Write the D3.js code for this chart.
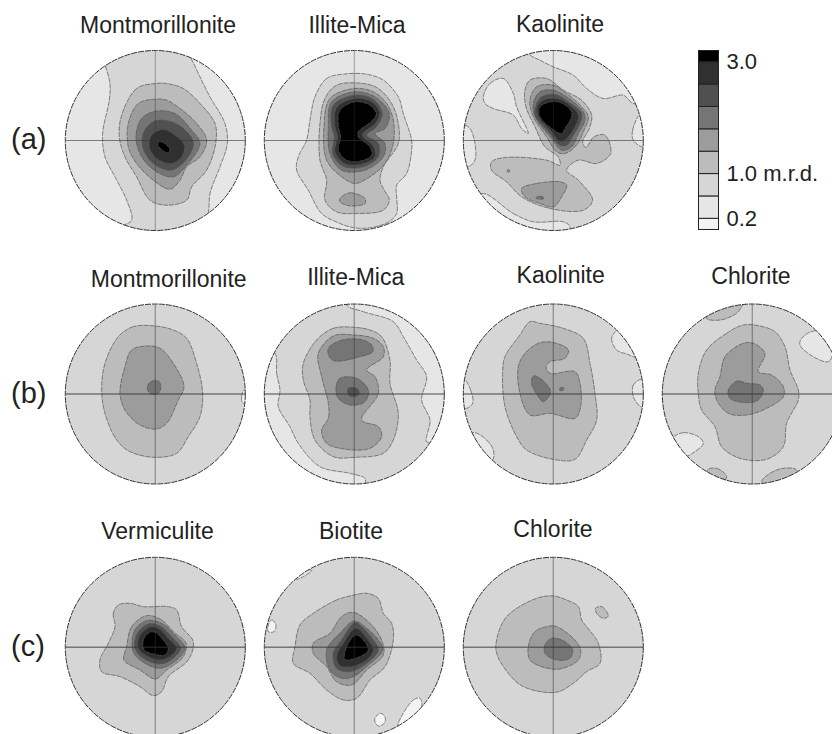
<!DOCTYPE html>
<html lang="en">
<head>
  <meta charset="UTF-8">
  <title>Pole figures</title>
  <style>
    html, body { margin: 0; padding: 0; background: #fff; overflow: hidden; }
    svg { display: block; }
    text { font-family: "Liberation Sans", Arial, sans-serif; fill: #222; }
    .contour { stroke: #555; stroke-width: 0.7px; stroke-dasharray: 5 1; }
    .rim { fill: none; stroke: #333; stroke-width: 1px; stroke-dasharray: 6 1; }
    .cross { stroke: #333; }
  </style>
  <script src="https://cdnjs.cloudflare.com/ajax/libs/d3/7.8.5/d3.min.js"></script>
</head>
<body>
  <div class="main"></div>
  <script>
  // contour data: [shade level, [x, y] points], x/y in projection units, rim = 270, y runs down
  var shades = ["#f3f3f3", "#e6e6e6", "#d6d6d6", "#bcbcbc", "#9c9c9c", "#757575", "#505050", "#303030", "#000000"];
  var legendStops = [0, 0.2, 0.6, 1.0, 1.4, 1.8, 2.2, 2.6, 3.0, 3.2];
  var legendTicks = [0.2, 1.0, 3.0];

  var rowLabels = ["(a)", "(b)", "(c)"];
  var namesA = ["Montmorillonite", "Illite-Mica", "Kaolinite"];
  var namesB = ["Montmorillonite", "Illite-Mica", "Kaolinite", "Chlorite"];
  var namesC = ["Vermiculite", "Biotite", "Chlorite"];

  var montA = [
    [2, [[-151,-226],[-136,-171],[-138,-121],[-158,-21],[-151,49],[-121,109],[-86,179],[-71,239],[-101,259],[-116,299],[0,339],[134,299],[159,219],[164,159],[194,79],[216,9],[209,-51],[164,-131],[134,-191],[104,-251],[64,-301],[0,-321],[-116,-301],[-166,-261]]],
    [3, [[0,-171],[-56,-156],[-101,-76],[-108,-11],[-91,49],[-56,109],[-16,179],[34,194],[94,179],[109,139],[154,89],[181,9],[179,-51],[134,-111],[84,-156],[34,-171]]],
    [4, [[0,-124],[-51,-111],[-81,-51],[-81,19],[-56,69],[-6,119],[44,146],[74,119],[94,79],[134,49],[154,-1],[124,-51],[74,-96],[34,-121]]],
    [5, [[0,-88],[-41,-66],[-58,-11],[-41,49],[4,94],[54,109],[94,74],[134,9],[109,-31],[59,-81]]],
    [6, [[0,-59],[-34,-26],[-38,19],[-6,69],[49,89],[99,49],[114,4],[84,-36],[49,-56]]],
    [7, [[24,-33],[-11,-16],[-18,19],[4,54],[49,69],[79,49],[87,14],[59,-16]]],
    [8, [[12,4],[29,9],[44,29],[36,37],[19,27],[7,12]]]
  ];
  var illiteA = [
    [2, [[-33,-199],[-83,-186],[-118,-131],[-133,-61],[-143,-1],[-168,49],[-173,89],[-138,149],[-98,219],[-43,249],[0,262],[47,262],[102,245],[127,219],[127,169],[127,134],[157,99],[172,29],[172,-1],[147,-81],[132,-131],[87,-181],[37,-199]]],
    [3, [[-53,-166],[-88,-126],[-103,-51],[-103,59],[-83,119],[-88,179],[-53,214],[7,219],[87,209],[105,179],[87,144],[77,119],[87,79],[132,9],[132,-51],[112,-111],[72,-156],[27,-171]]],
    [4, [[-43,174],[-13,157],[32,174],[32,189],[-13,196],[-43,184]]],
    [4, [[0,-156],[-73,-126],[-91,-41],[-83,59],[-38,109],[2,129],[47,109],[92,69],[117,9],[117,-61],[97,-111],[57,-146]]],
    [5, [[2,-146],[-68,-116],[-78,-41],[-73,39],[-38,89],[32,89],[87,49],[92,9],[62,-21],[92,-36],[105,-81],[62,-131]]],
    [6, [[2,-136],[-63,-106],[-68,-41],[-60,-11],[-65,39],[-33,77],[27,79],[72,49],[72,9],[37,-16],[65,-40],[84,-81],[57,-123]]],
    [7, [[2,-126],[-53,-99],[-58,-43],[-50,-11],[-58,34],[-28,69],[22,71],[62,49],[55,14],[25,-13],[27,-23],[62,-50],[76,-83],[52,-116]]],
    [8, [[2,-116],[-43,-91],[-48,-46],[-41,-11],[-48,29],[-23,59],[17,62],[52,44],[47,19],[12,-11],[12,-26],[52,-58],[66,-80],[47,-106]]]
  ];
  var kaolA = [
    [1, [[-75,-261],[-40,-241],[0,-221],[60,-196],[100,-156],[150,-126],[210,-136],[240,-111],[310,-121],[250,-321],[0,-321],[-100,-320]]],
    [1, [[-210,-131],[-190,-171],[-150,-186],[-120,-141],[-110,-101],[-80,-36],[-75,-21],[-95,-36],[-120,-76],[-180,-96],[-205,-111]]],
    [1, [[-270,-46],[-250,-36],[-235,9],[-235,59],[-255,79],[-290,79],[-300,-1]]],
    [1, [[260,-76],[238,-31],[240,-1],[270,19],[290,-21]]],
    [1, [[-210,159],[-120,219],[-60,244],[30,244],[50,259],[30,300],[-210,300],[-250,179]]],
    [3, [[-85,-151],[-70,-181],[-20,-186],[30,-151],[85,-121],[115,-76],[108,-36],[88,4],[98,21],[122,-11],[155,-16],[172,39],[130,69],[75,59],[40,89],[75,119],[118,179],[90,209],[-10,204],[-95,169],[-140,124],[-185,89],[-185,64],[-145,51],[-20,59],[20,74],[15,49],[-25,19],[-55,-41],[-82,-101]]],
    [4, [[-95,144],[-50,129],[20,124],[40,134],[25,169],[0,199],[-40,189],[-85,169]]],
    [5, [[-50,169],[-30,170],[-30,175],[-50,174]]],
    [4, [[-138,88],[-132,88],[-132,94],[-138,94]]],
    [4, [[-50,-161],[0,-166],[40,-141],[85,-101],[105,-71],[90,-26],[70,14],[35,39],[10,34],[-20,-11],[-60,-71],[-70,-121]]],
    [5, [[-40,-146],[0,-151],[40,-131],[90,-86],[95,-61],[75,-21],[55,19],[25,29],[-5,-6],[-55,-71],[-60,-111]]],
    [6, [[-35,-131],[5,-138],[45,-116],[85,-81],[80,-51],[60,-16],[40,14],[20,14],[-10,-21],[-55,-76],[-52,-106]]],
    [7, [[-30,-121],[10,-126],[50,-106],[75,-76],[65,-41],[40,-6],[20,4],[-5,-26],[-45,-71],[-48,-101]]],
    [8, [[-25,-111],[15,-116],[52,-91],[55,-71],[35,-36],[25,-21],[-5,-36],[-40,-71],[-42,-96]]]
  ];

  var montB = [
    [0, [[267,-12],[259,8],[262,26],[284,28],[284,-12]]],
    [3, [[0,-204],[-66,-202],[-111,-172],[-151,-92],[-161,-12],[-151,58],[-116,138],[-76,173],[0,190],[64,178],[99,128],[134,68],[142,-2],[124,-92],[94,-167],[54,-192]]],
    [4, [[-26,-144],[-71,-132],[-91,-82],[-106,-2],[-91,48],[-46,93],[4,105],[34,88],[69,18],[86,-22],[54,-92],[14,-137]]],
    [5, [[-16,-35],[9,-39],[17,-22],[9,-2],[-11,0],[-24,-14]]]
  ];
  var illiteB = [
    [1, [[-23,-267],[27,-247],[117,-217],[147,-172],[187,-102],[217,-52],[202,18],[227,78],[217,143],[250,140],[302,68],[287,-132],[137,-282],[-13,-302]]],
    [1, [[-238,-122],[-233,-62],[-223,-12],[-228,38],[-193,98],[-168,148],[-103,218],[-13,238],[32,253],[32,268],[-13,308],[-213,218],[-303,18],[-283,-132]]],
    [3, [[0,-200],[-63,-197],[-113,-162],[-153,-92],[-153,-42],[-133,18],[-133,68],[-118,138],[-63,188],[0,190],[87,178],[117,138],[132,58],[107,-32],[107,-102],[82,-172],[47,-192]]],
    [4, [[0,-177],[-63,-174],[-108,-122],[-98,-52],[-78,28],[-78,73],[-98,108],[-83,148],[-23,166],[47,163],[82,128],[72,98],[22,78],[72,-2],[62,-52],[37,-72],[87,-112],[87,-142],[57,-167]]],
    [5, [[-78,-137],[-43,-160],[17,-164],[52,-147],[55,-127],[17,-112],[-58,-99],[-75,-112]]],
    [5, [[-43,-47],[7,-47],[42,-12],[32,23],[-13,33],[-48,13],[-55,-17]]],
    [6, [[-18,-17],[7,-17],[15,-4],[7,6],[-13,6],[-20,-4]]]
  ];
  var kaolB = [
    [1, [[-270,-47],[-248,-12],[-242,28],[-260,43],[-290,38],[-295,-42]]],
    [1, [[268,-44],[240,-27],[242,13],[268,40],[290,-2]]],
    [1, [[195,-194],[175,-167],[190,-132],[220,-120],[250,-112],[240,-200]]],
    [1, [[-240,116],[-200,138],[-180,168],[-182,198],[-215,208],[-260,158],[-280,150]]],
    [3, [[-70,-217],[-100,-177],[-145,-112],[-152,-62],[-145,38],[-110,128],[-80,168],[0,196],[65,196],[100,138],[130,78],[125,-2],[110,-92],[90,-167],[30,-197],[-40,-212]]],
    [4, [[-40,-154],[-85,-122],[-105,-82],[-100,-2],[-70,63],[-10,58],[65,73],[82,38],[80,-32],[65,-67],[-10,-62],[-22,-82],[-10,-97],[35,-107],[45,-132],[10,-152]]],
    [5, [[-60,-54],[-40,-47],[-8,-7],[-30,23],[-48,3],[-65,-32]]],
    [5, [[20,-17],[30,-20],[30,-12],[20,-10]]]
  ];
  var chlorB = [
    [3, [[-137,-227],[-100,-275],[-25,-285],[-32,-262],[-50,-240],[-97,-222]]],
    [3, [[-135,228],[-107,223],[-77,248],[-100,275]]],
    [3, [[28,263],[53,238],[93,223],[133,228],[130,270],[40,290]]],
    [1, [[148,-167],[183,-189],[218,-182],[241,-122],[228,-97],[183,-112],[143,-147]]],
    [1, [[-242,133],[-207,116],[-162,128],[-147,148],[-172,173],[-207,188],[-250,150]]],
    [3, [[-27,-207],[-77,-182],[-137,-132],[-162,-62],[-162,-2],[-152,48],[-112,98],[-92,158],[-37,193],[43,196],[93,158],[103,88],[138,18],[138,-12],[113,-72],[98,-142],[68,-187],[23,-204]]],
    [4, [[-27,-152],[-82,-112],[-97,-52],[-112,-12],[-107,18],[-72,58],[-17,63],[43,43],[93,8],[93,-22],[58,-57],[18,-67],[38,-122],[3,-152]]],
    [5, [[-45,-39],[-72,-12],[-67,13],[-17,26],[18,18],[33,-12],[23,-27],[-17,-32]]]
  ];

  var vermC = [
    [3, [[-111,-127],[-126,-102],[-121,-62],[-141,-12],[-166,38],[-161,73],[-106,88],[-46,118],[-6,145],[19,133],[39,88],[99,38],[114,-17],[79,-62],[64,-112],[39,-122],[-36,-122],[-76,-132]]],
    [4, [[-26,-95],[-71,-62],[-86,-2],[-94,38],[-46,68],[0,95],[34,68],[84,28],[92,-12],[54,-47],[19,-82]]],
    [5, [[-26,-80],[-61,-52],[-68,8],[-46,38],[14,63],[64,38],[89,3],[59,-37],[19,-72]]],
    [6, [[-21,-70],[-54,-42],[-61,3],[-36,33],[19,50],[59,28],[76,3],[49,-32],[14,-64]]],
    [7, [[-18,-60],[-48,-32],[-51,3],[-26,26],[19,38],[49,23],[64,3],[39,-27],[9,-57]]],
    [8, [[-16,-45],[-36,-22],[-33,8],[-6,20],[29,23],[39,3],[19,-27],[2,-44]]]
  ];
  var biotC = [
    [0, [[-258,-67],[-248,-82],[-235,-67],[-241,-47],[-258,-47]]],
    [1, [[-178,-207],[-138,-232],[-128,-230],[-153,-212],[-173,-204]]],
    [0, [[62,213],[77,198],[92,208],[90,228],[72,236],[62,223]]],
    [0, [[132,228],[177,158],[197,153],[202,178],[157,223],[132,243]]],
    [3, [[0,-157],[-53,-142],[-123,-102],[-163,-67],[-178,-2],[-183,48],[-133,78],[-83,128],[-33,158],[7,153],[47,98],[92,58],[117,-22],[112,-72],[87,-102],[72,-147],[37,-162]]],
    [4, [[-3,-105],[-38,-92],[-73,-42],[-123,-12],[-123,18],[-83,58],[-53,103],[-8,113],[37,68],[87,23],[82,-22],[47,-72]]],
    [5, [[0,-79],[-43,-42],[-83,8],[-73,68],[-38,93],[-3,88],[37,58],[85,8],[72,-22],[37,-57]]],
    [6, [[2,-74],[-38,-22],[-63,18],[-53,63],[-13,73],[37,48],[72,8],[57,-22],[27,-57]]],
    [7, [[5,-57],[-33,-12],[-53,28],[-43,55],[-8,58],[37,38],[57,8],[37,-27]]],
    [8, [[5,-37],[-23,-2],[-28,36],[17,28],[42,8],[27,-22]]]
  ];
  var chlorC = [
    [3, [[0,-154],[-50,-147],[-140,-92],[-170,-22],[-170,18],[-135,78],[-90,118],[8,135],[60,108],[100,73],[140,48],[135,-12],[100,-62],[85,-82],[75,-122],[40,-142]]],
    [3, [[127,-117],[145,-122],[165,-94],[150,-87],[130,-102]]],
    [4, [[-10,-64],[-55,-47],[-75,-2],[-70,38],[-35,58],[20,65],[75,38],[82,8],[60,-27],[10,-62]]],
    [5, [[-5,-27],[-25,-7],[-25,18],[10,38],[50,33],[58,8],[35,-17]]]
  ];

  var width = 832,
      height = 734,
      radius = 90;

  // layout of the plate: row/column centres, background shade and title placement
  var colX = d3.scaleLinear().domain([0, 3]).range([155.3, 752.3]);
  var rowY = [140.5, 394, 647.3];
  var panels = [
    { row: 0, col: 0, name: namesA[0], base: 1, contours: montA,   tx: 158,   ty: 33 },
    { row: 0, col: 1, name: namesA[1], base: 1, contours: illiteA, tx: 357,   ty: 33 },
    { row: 0, col: 2, name: namesA[2], base: 2, contours: kaolA,   tx: 560,   ty: 32 },
    { row: 1, col: 0, name: namesB[0], base: 2, contours: montB,   tx: 168.7, ty: 286.7 },
    { row: 1, col: 1, name: namesB[1], base: 2, contours: illiteB, tx: 355.7, ty: 285 },
    { row: 1, col: 2, name: namesB[2], base: 2, contours: kaolB,   tx: 560.7, ty: 283 },
    { row: 1, col: 3, name: namesB[3], base: 2, contours: chlorB,  tx: 751,   ty: 284 },
    { row: 2, col: 0, name: namesC[0], base: 2, contours: vermC,   tx: 157.5, ty: 539 },
    { row: 2, col: 1, name: namesC[1], base: 2, contours: biotC,   tx: 351,   ty: 539 },
    { row: 2, col: 2, name: namesC[2], base: 2, contours: chlorC,  tx: 553,   ty: 537 }
  ];

  var svg = d3.select(".main").append("svg")
      .attr("width", width)
      .attr("height", height);

  var pole = d3.scaleLinear().domain([-270, 270]).range([-radius, radius]);

  var contourLine = d3.line()
      .x(function(d) { return pole(d[0]); })
      .y(function(d) { return pole(d[1]); })
      .curve(d3.curveCatmullRomClosed.alpha(0.5));

  var panel = svg.selectAll("g.panel")
      .data(panels)
    .enter().append("g")
      .attr("class", "panel")
      .attr("transform", function(d) { return "translate(" + colX(d.col) + "," + rowY[d.row] + ")"; });

  panel.append("clipPath")
      .attr("id", function(d, i) { return "disc" + i; })
    .append("circle")
      .attr("r", radius);

  var disc = panel.append("g")
      .attr("clip-path", function(d, i) { return "url(#disc" + i + ")"; });

  disc.append("circle")
      .attr("r", radius)
      .attr("fill", function(d) { return shades[d.base]; });

  disc.selectAll("path.contour")
      .data(function(d) { return d.contours; })
    .enter().append("path")
      .attr("class", "contour")
      .attr("fill", function(d) { return shades[d[0]]; })
      .attr("d", function(d) { return contourLine(d[1]); });

  // top row has hairline crosses, the lower rows heavier ones
  disc.append("line")
      .attr("class", "cross")
      .attr("x1", -radius).attr("x2", radius)
      .attr("stroke-width", function(d) { return d.row ? 1.5 : 1; })
      .attr("stroke-opacity", 0.6);
  disc.append("line")
      .attr("class", "cross")
      .attr("y1", -radius).attr("y2", radius)
      .attr("stroke-width", function(d) { return d.row ? 1.3 : 1; })
      .attr("stroke-opacity", 0.42);

  panel.append("circle")
      .attr("class", "rim")
      .attr("r", radius);

  svg.selectAll("text.title")
      .data(panels)
    .enter().append("text")
      .attr("class", "title")
      .attr("x", function(d) { return d.tx; })
      .attr("y", function(d) { return d.ty; })
      .attr("text-anchor", "middle")
      .style("font-size", "23px")
      .text(function(d) { return d.name; });

  svg.selectAll("text.row")
      .data(rowLabels)
    .enter().append("text")
      .attr("class", "row")
      .attr("x", 11)
      .attr("y", function(d, i) { return rowY[i] + 8.5; })
      .style("font-size", "29px")
      .text(function(d) { return d; });

  // colour key
  var keyY = d3.scaleLinear().domain([0.2, 3.0]).range([218.3, 61.7]);
  var key = svg.append("g").attr("transform", "translate(698.5,0)");

  key.selectAll("rect")
      .data(shades)
    .enter().append("rect")
      .attr("width", 20)
      .attr("y", function(d, i) { return keyY(legendStops[i + 1]); })
      .attr("height", function(d, i) { return keyY(legendStops[i]) - keyY(legendStops[i + 1]); })
      .attr("fill", function(d) { return d; })
      .attr("stroke", "#222")
      .attr("stroke-width", 1);

  var keyAxis = d3.axisRight(keyY)
      .tickValues(legendTicks)
      .tickSize(0)
      .tickPadding(8)
      .tickFormat(function(d) { return d === 1 ? "1.0 m.r.d." : d3.format(".1f")(d); });

  key.append("g")
      .attr("transform", "translate(20,0)")
      .call(keyAxis)
      .call(function(g) { g.select(".domain").remove(); })
      .selectAll("text")
      .style("font-size", "22px")
      .attr("fill", "#222");
  </script>
</body>
</html>
